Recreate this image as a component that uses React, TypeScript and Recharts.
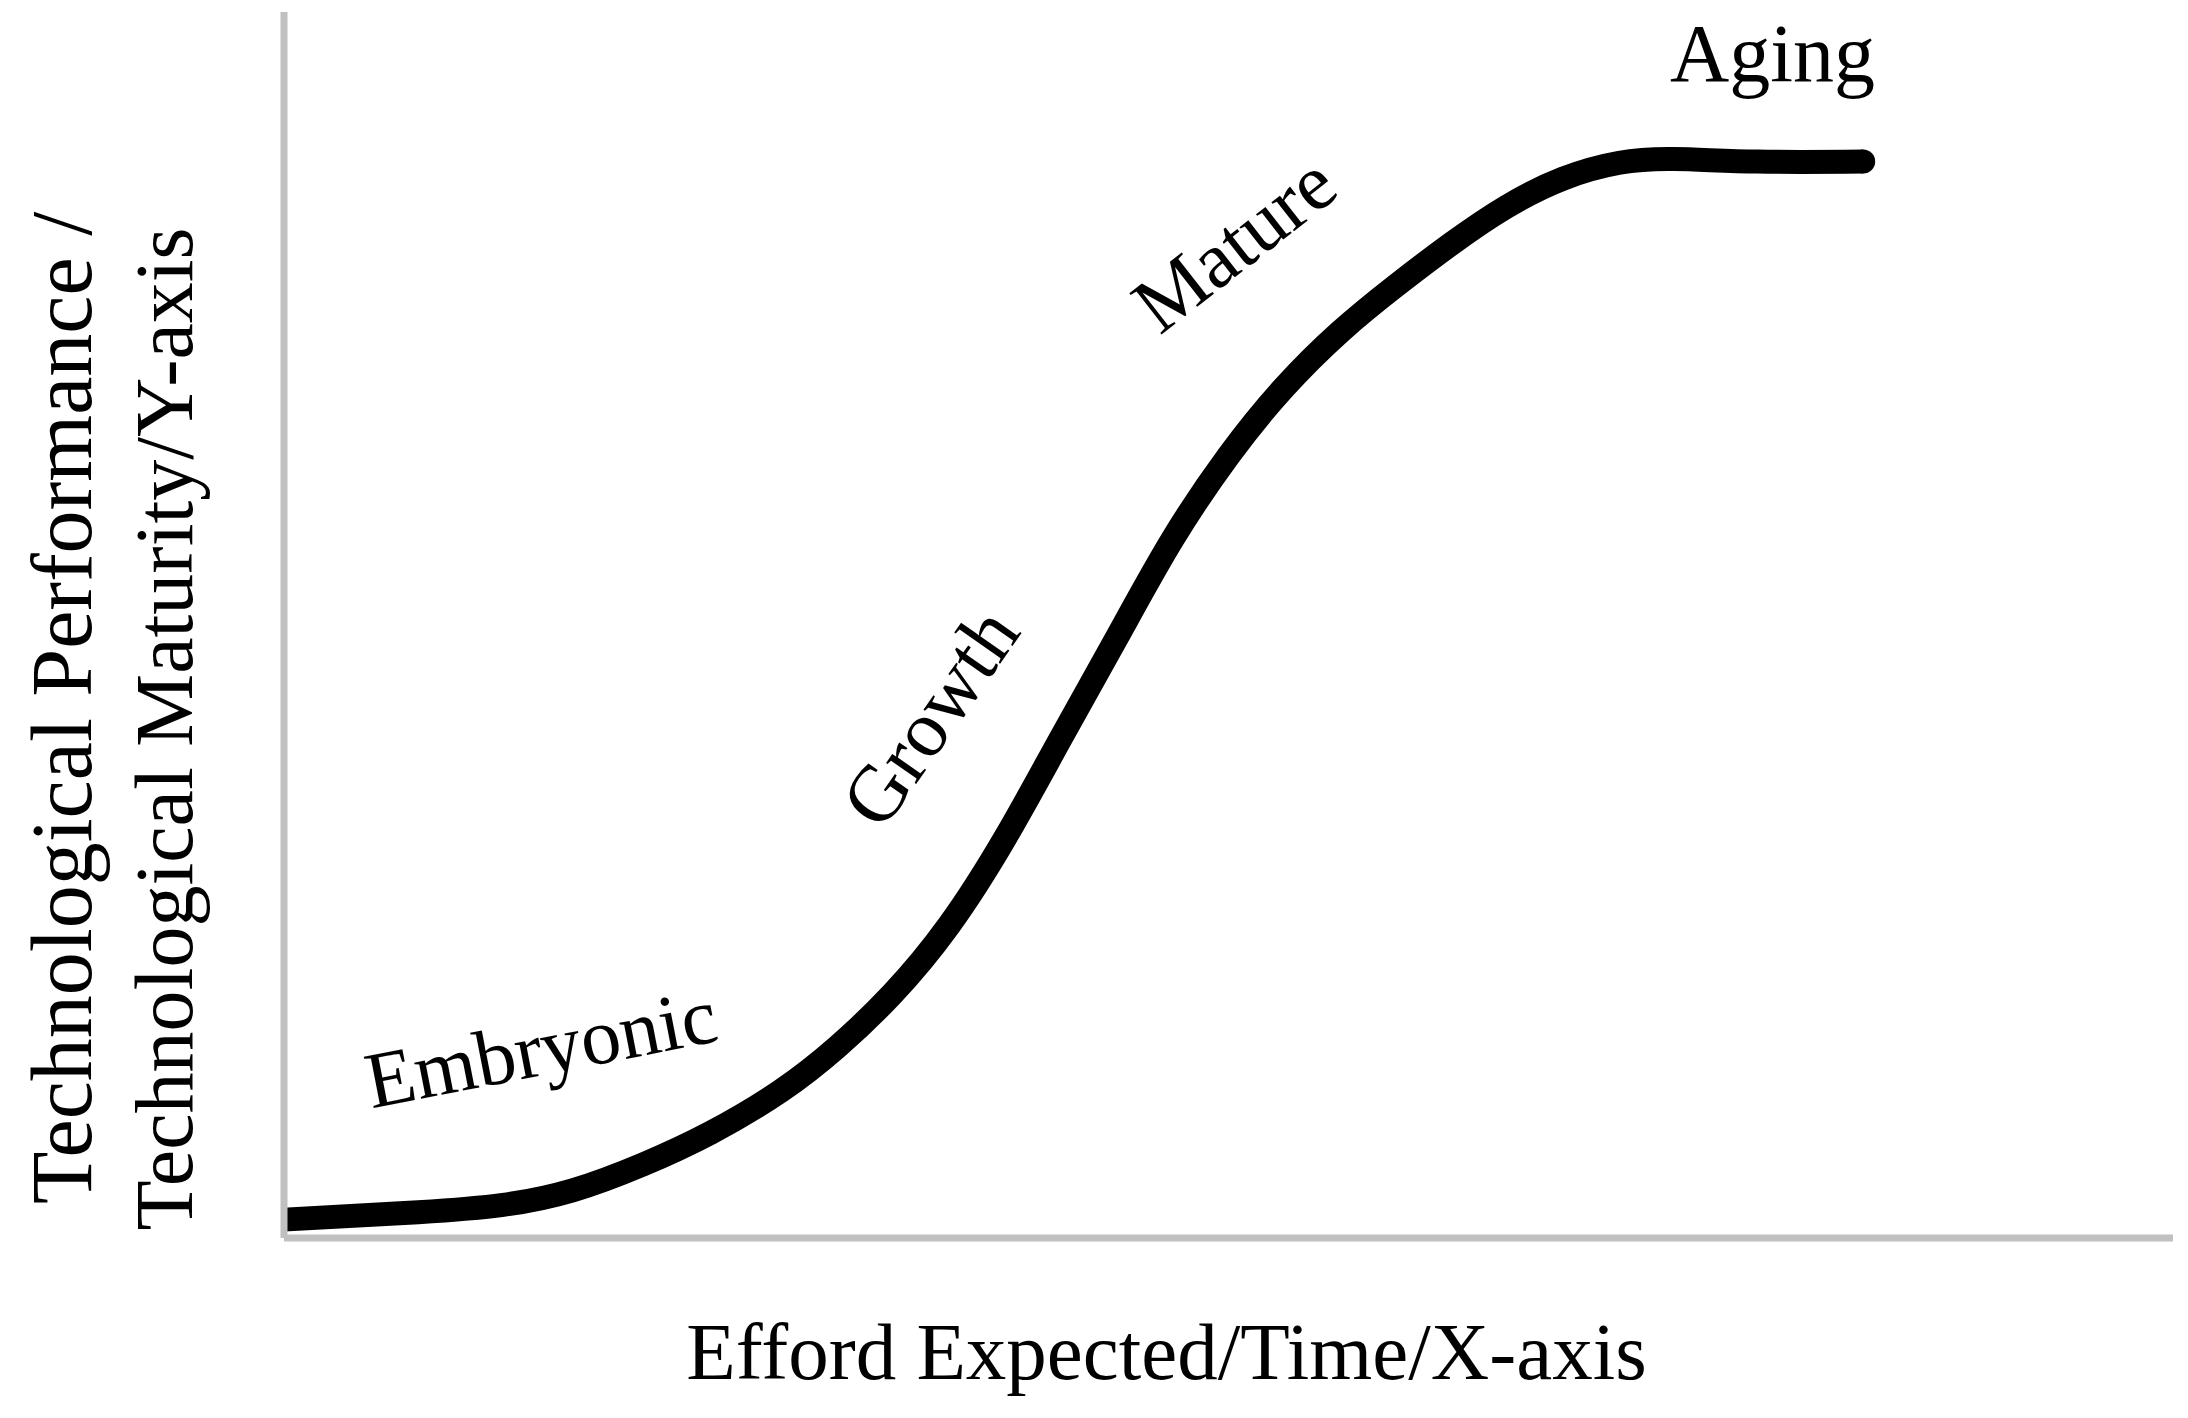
import { LineChart, Line, XAxis, YAxis, ReferenceDot } from 'recharts';

// S-curve (x: effort, y: maturity, both 0-100)
const effort = [0, 7.1, 11.6, 15.3, 19, 22.6, 26.3, 29.3, 32.2, 35.2, 38.2, 41.1, 44.1, 47, 50, 52.9, 55.9, 58.8, 61.8, 64.7, 67.7, 70.7, 73.6, 78, 83.6];
const maturity = [1.5, 2.1, 2.7, 3.9, 6.0, 8.6, 12, 15.6, 19.9, 25.5, 32.7, 40.7, 49.0, 56.9, 63.8, 69.3, 73.9, 77.6, 81.1, 84.1, 86.4, 87.7, 88, 87.8, 87.8];

const phaseNames = ['Embryonic', 'Growth', 'Mature', 'Aging'];
const phaseEffort = [13.6, 34.2, 50.3, 78.8];
const phaseMaturity = [15.5, 42.5, 81.1, 94.4];

const xTitle = 'Efford Expected/Time/X-axis';
const yTitleLines = ['Technological Performance /', 'Technological Maturity/Y-axis'];

const FONT = "'Liberation Serif', 'Times New Roman', serif";
const AXIS_GREY = '#C0C0C0';

const data = effort.map((x, i) => ({ effort: x, maturity: maturity[i] }));

// label rotation per phase (degrees)
const phaseAngles = [-11, -55, -38, 0];

const phaseLabel = (text: string, angle: number) => (props: any) => {
  const vb = props.viewBox || {};
  const cx = vb.x + (vb.width || 0) / 2;
  const cy = vb.y + (vb.height || 0) / 2;
  return (
    <text
      x={cx}
      y={cy}
      transform={angle ? `rotate(${angle} ${cx} ${cy})` : undefined}
      textAnchor="middle"
      dominantBaseline={angle ? 'central' : 'alphabetic'}
      fontFamily={FONT}
      fontSize={angle ? 80 : 82}
      fill="#000"
    >
      {text}
    </text>
  );
};

const renderEndCap = (props: any) => {
  const { cx, cy, index } = props;
  if (index !== data.length - 1) return <g key={`d-${index}`} />;
  return <circle key={`d-${index}`} cx={cx} cy={cy} r={12} fill="#000" />;
};

const XTitle = (props: any) => {
  const vb = props.viewBox;
  const cx = vb.x + vb.width / 2 - 62;
  return (
    <text x={cx} y={1379} textAnchor="middle" fontFamily={FONT} fontSize={81} fill="#000">
      {xTitle}
    </text>
  );
};

const YTitle = () => (
  <g>
    <text x={91} y={708} transform="rotate(-90 91 708)" textAnchor="middle" fontFamily={FONT} fontSize={86} fill="#000">
      {yTitleLines[0]}
    </text>
    <text x={192} y={729} transform="rotate(-90 192 729)" textAnchor="middle" fontFamily={FONT} fontSize={82} fill="#000">
      {yTitleLines[1]}
    </text>
  </g>
);

export default function App() {
  return (
    <div style={{ position: 'absolute', left: 0, top: 0, background: '#fff' }}>
      <LineChart
        width={2188}
        height={1418}
        data={data}
        margin={{ top: 12, right: 15, bottom: 120, left: 224 }}
      >
        <XAxis
          type="number"
          dataKey="effort"
          domain={[0, 100]}
          height={60}
          tick={false}
          tickLine={false}
          axisLine={{ stroke: AXIS_GREY, strokeWidth: 7 }}
          label={{ content: <XTitle /> }}
        />
        <YAxis
          type="number"
          domain={[0, 100]}
          width={60}
          tick={false}
          tickLine={false}
          axisLine={{ stroke: AXIS_GREY, strokeWidth: 7 }}
          label={{ content: <YTitle /> }}
        />
        <Line
          type="natural"
          dataKey="maturity"
          stroke="#000"
          strokeWidth={24}
          strokeLinecap="butt"
          strokeLinejoin="round"
          dot={renderEndCap}
          activeDot={false}
          isAnimationActive={false}
        />
        {phaseNames.map((name, i) => (
          <ReferenceDot
            key={name}
            x={phaseEffort[i]}
            y={phaseMaturity[i]}
            r={0}
            fill="none"
            stroke="none"
            label={{ content: phaseLabel(name, phaseAngles[i]) }}
          />
        ))}
      </LineChart>
    </div>
  );
}
